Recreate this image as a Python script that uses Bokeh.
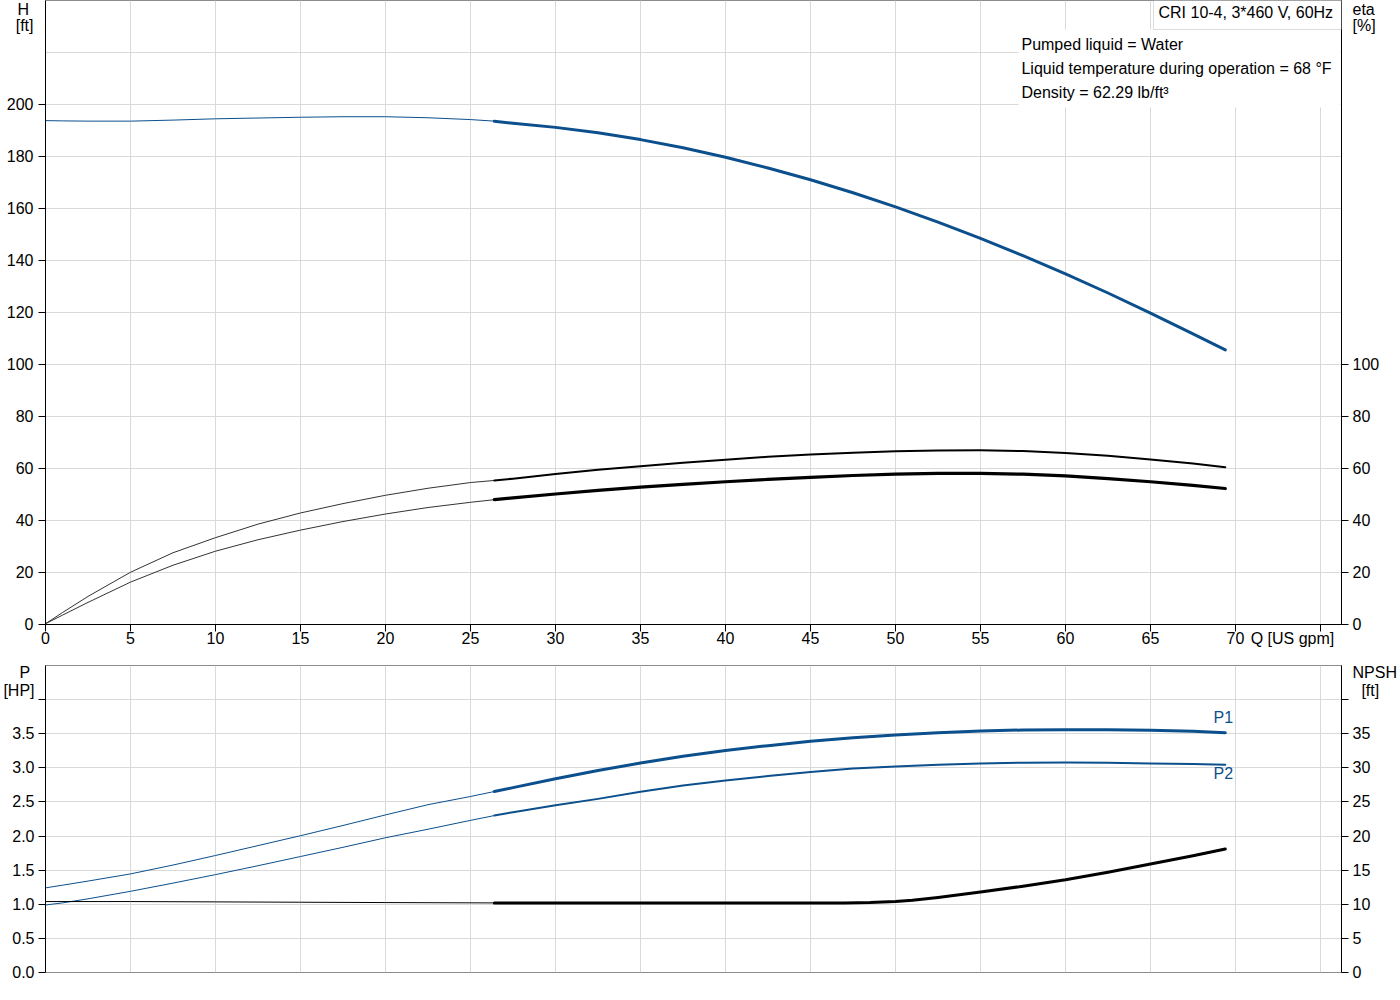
from bokeh.plotting import figure
from bokeh.models import (Range1d, LinearAxis, FixedTicker, Label, BoxAnnotation,
                          PrintfTickFormatter, AllLabels)
from bokeh.layouts import column
from bokeh.embed import file_html
from bokeh.resources import INLINE

# ---------------- data ----------------
x_ticks = [0, 5, 10, 15, 20, 25, 30, 35, 40, 45, 50, 55, 60, 65, 70, 75]
x_labels = [0, 5, 10, 15, 20, 25, 30, 35, 40, 45, 50, 55, 60, 65, 70]
h_ticks = [0, 20, 40, 60, 80, 100, 120, 140, 160, 180, 200]
h_grid = [0, 20, 40, 60, 80, 100, 120, 140, 160, 180, 200, 220, 240]
eta_ticks = [0, 20, 40, 60, 80, 100]
p_ticks = [0.0, 0.5, 1.0, 1.5, 2.0, 2.5, 3.0, 3.5, 4.0]
p_labels = [0.0, 0.5, 1.0, 1.5, 2.0, 2.5, 3.0, 3.5]
npsh_ticks = [0, 5, 10, 15, 20, 25, 30, 35, 40]
npsh_labels = [0, 5, 10, 15, 20, 25, 30, 35]

# flow points: extrapolated (thin) and operating (thick) range
q_ext = [0, 1, 2.5, 5, 7.5, 10, 12.5, 15, 17.5, 20, 22.5, 25, 26.4]
q_op = [26.4, 27.5, 30, 32.5, 35, 37.5, 40, 42.5, 45, 47.5, 50, 52.5, 55, 57.5,
        60, 62.5, 65, 67.5, 69.4]

h_ext = [193.8, 193.7, 193.6, 193.6, 194.0, 194.5, 194.8, 195.1, 195.3, 195.3, 194.9, 194.2, 193.6]
h_op = [193.6, 192.8, 191.2, 189.1, 186.5, 183.35, 179.7, 175.6, 171.05, 166.05, 160.6,
        154.75, 148.5, 141.85, 134.85, 127.5, 119.8, 111.8, 105.6]

eta1_ext = [0.3, 4.6, 10.8, 20.1, 27.6, 33.4, 38.6, 42.9, 46.5, 49.7, 52.4, 54.6, 55.4]
eta1_op = [55.4, 56.1, 57.9, 59.5, 60.9, 62.2, 63.4, 64.5, 65.4, 66.1, 66.65, 66.95,
           67.0, 66.7, 66.0, 64.9, 63.5, 61.9, 60.5]
eta2_ext = [0.3, 3.6, 8.5, 16.3, 22.8, 28.2, 32.6, 36.3, 39.6, 42.5, 45.0, 47.0, 48.0]
eta2_op = [48.0, 48.7, 50.2, 51.6, 52.8, 53.9, 54.9, 55.8, 56.6, 57.3, 57.8, 58.1,
           58.1, 57.8, 57.2, 56.1, 54.9, 53.5, 52.3]

p1_ext = [1.24, 1.28, 1.34, 1.445, 1.575, 1.715, 1.86, 2.005, 2.155, 2.31, 2.46, 2.58, 2.653]
p1_op = [2.653, 2.71, 2.84, 2.96, 3.07, 3.17, 3.255, 3.325, 3.39, 3.44, 3.48, 3.515,
         3.54, 3.555, 3.56, 3.56, 3.55, 3.535, 3.515]
p2_ext = [0.99, 1.02, 1.08, 1.19, 1.31, 1.435, 1.565, 1.70, 1.835, 1.975, 2.10, 2.23, 2.30]
p2_op = [2.30, 2.35, 2.45, 2.545, 2.65, 2.74, 2.815, 2.88, 2.94, 2.99, 3.02, 3.045,
         3.065, 3.075, 3.08, 3.075, 3.065, 3.055, 3.045]

q_npsh_ext = [0, 5, 10, 15, 20, 26.4]
npsh_ext = [10.4, 10.4, 10.35, 10.3, 10.25, 10.2]
q_npsh_op = [26.4, 30, 35, 40, 45, 47, 48.5, 50, 51, 52.5, 55, 57.5, 60, 62.5, 65, 67.5, 69.4]
npsh_op = [10.2, 10.2, 10.2, 10.2, 10.2, 10.2, 10.25, 10.4, 10.6, 11.0, 11.8, 12.65,
           13.6, 14.7, 15.9, 17.1, 18.1]

info_lines = ["Pumped liquid = Water",
              "Liquid temperature during operation = 68 \u00b0F",
              "Density = 62.29 lb/ft\u00b3"]
title_text = "CRI 10-4, 3*460 V, 60Hz"
q_title, h_title, h_unit = "Q [US gpm]", "H\u00a0", "[ft]"
eta_title, eta_unit = "eta", "[%]"
p_title, p_unit = "P\u00a0", "[HP]"
npsh_title, npsh_unit = "NPSH", "\u00a0\u00a0[ft]"

# ---------------- style ----------------
FONT = "Liberation Sans"
FS = "16px"
BLUE = "#0b4f8c"
GRID = "#d9d9d9"
FRAME = "#8c8c8c"
X_MAX = 1296 / 17.0
H_MAX = 240
P_MAX = 4.5

# positions (data units) of the axis titles, which are drawn as axis labels
Q_TITLE_AT = 73.35
H_TITLE_AT, H_UNIT_AT = 236.5, 230.4
P_TITLE_AT, P_UNIT_AT = 4.397, 4.134


def style_axis(ax, label_ticks, mark_ticks, overrides, fmt, standoff):
    ax.ticker = FixedTicker(ticks=label_ticks, minor_ticks=mark_ticks)
    ax.formatter = PrintfTickFormatter(format=fmt)
    ax.major_label_overrides = overrides
    ax.major_label_policy = AllLabels()
    ax.axis_line_color = "black"
    ax.axis_line_width = 1
    ax.major_tick_out = 0
    ax.major_tick_in = 0
    ax.major_tick_line_color = None
    ax.minor_tick_line_color = "black"
    ax.minor_tick_out = 7
    ax.minor_tick_in = 0
    ax.major_label_text_font = FONT
    ax.major_label_text_font_size = FS
    ax.major_label_text_color = "black"
    ax.major_label_standoff = standoff


def txt(p, x, y, s, align="left", color="black"):
    p.add_layout(Label(x=x, y=y, text=s, text_font=FONT, text_font_size=FS,
                       text_color=color, text_align=align, text_baseline="middle"))


W = 1400
RB = W - 1341
# ---------------- top chart ----------------
p1 = figure(width=W, height=665, x_range=Range1d(0, X_MAX), y_range=Range1d(0, H_MAX),
            output_backend="svg", toolbar_location=None,
            min_border_left=45, min_border_right=RB, min_border_top=0, min_border_bottom=41)
p1.outline_line_color = FRAME
style_axis(p1.xaxis[0], x_labels + [Q_TITLE_AT], x_ticks, {Q_TITLE_AT: q_title}, "%d", -2)
style_axis(p1.yaxis[0], h_ticks + [H_TITLE_AT, H_UNIT_AT], h_ticks,
           {H_TITLE_AT: h_title, H_UNIT_AT: h_unit}, "%d", 5)
p1.extra_y_ranges = {"eta": Range1d(0, H_MAX)}
eta_axis = LinearAxis(y_range_name="eta")
style_axis(eta_axis, eta_ticks + [H_TITLE_AT, H_UNIT_AT], eta_ticks,
           {H_TITLE_AT: eta_title, H_UNIT_AT: eta_unit}, "%d", 4)
p1.add_layout(eta_axis, "right")
p1.xgrid.ticker = FixedTicker(ticks=x_ticks)
p1.ygrid.ticker = FixedTicker(ticks=h_grid)
p1.xgrid.grid_line_color = GRID
p1.ygrid.grid_line_color = GRID

p1.line(q_ext, h_ext, line_color=BLUE, line_width=1)
p1.line(q_op, h_op, line_color=BLUE, line_width=3, line_cap="round", line_join="round")
p1.line(q_ext, eta1_ext, line_color="#333333", line_width=1, y_range_name="eta")
p1.line(q_op, eta1_op, line_color="black", line_width=2, y_range_name="eta",
        line_cap="round", line_join="round")
p1.line(q_ext, eta2_ext, line_color="#333333", line_width=1, y_range_name="eta")
p1.line(q_op, eta2_op, line_color="black", line_width=3.2, y_range_name="eta",
        line_cap="round", line_join="round")

# info boxes
p1.add_layout(BoxAnnotation(left=57.24, right=76.17, top=228.85, bottom=198.85,
                            fill_color="white", fill_alpha=1, line_alpha=0))
p1.add_layout(BoxAnnotation(left=65.18, right=X_MAX, top=H_MAX, bottom=228.85,
                            fill_color="white", fill_alpha=1, line_color=FRAME, line_width=1))
txt(p1, 65.47, 235.2, title_text)
for s, yy in zip(info_lines, [223.08, 213.85, 204.62]):
    txt(p1, 57.41, yy, s)

# ---------------- bottom chart ----------------
p2 = figure(width=W, height=327, x_range=Range1d(0, X_MAX), y_range=Range1d(0, P_MAX),
            output_backend="svg", toolbar_location=None,
            min_border_left=45, min_border_right=RB, min_border_top=0, min_border_bottom=20)
p2.outline_line_color = FRAME
p2.xaxis.visible = False
style_axis(p2.yaxis[0], p_labels + [P_TITLE_AT, P_UNIT_AT], p_ticks,
           {P_TITLE_AT: p_title, P_UNIT_AT: p_unit}, "%.1f", 4)
p2.extra_y_ranges = {"npsh": Range1d(0, P_MAX * 10)}
npsh_axis = LinearAxis(y_range_name="npsh")
style_axis(npsh_axis, npsh_labels + [P_TITLE_AT * 10, P_UNIT_AT * 10], npsh_ticks,
           {P_TITLE_AT * 10: npsh_title, P_UNIT_AT * 10: npsh_unit}, "%d", 4)
p2.add_layout(npsh_axis, "right")
p2.xgrid.ticker = FixedTicker(ticks=x_ticks)
p2.ygrid.ticker = FixedTicker(ticks=p_ticks)
p2.xgrid.grid_line_color = GRID
p2.ygrid.grid_line_color = GRID

p2.line(q_ext, p1_ext, line_color=BLUE, line_width=1)
p2.line(q_op, p1_op, line_color=BLUE, line_width=3, line_cap="round", line_join="round")
p2.line(q_ext, p2_ext, line_color=BLUE, line_width=1)
p2.line(q_op, p2_op, line_color=BLUE, line_width=2, line_cap="round", line_join="round")
p2.line(q_npsh_ext, npsh_ext, line_color="black", line_width=1, y_range_name="npsh")
p2.line(q_npsh_op, npsh_op, line_color="black", line_width=3, y_range_name="npsh",
        line_cap="round", line_join="round")

txt(p2, 68.71, 3.738, "P1", color=BLUE)
txt(p2, 68.71, 2.917, "P2", color=BLUE)

layout = column(p1, p2, spacing=0)
open("out.html", "w").write(file_html(layout, INLINE))
